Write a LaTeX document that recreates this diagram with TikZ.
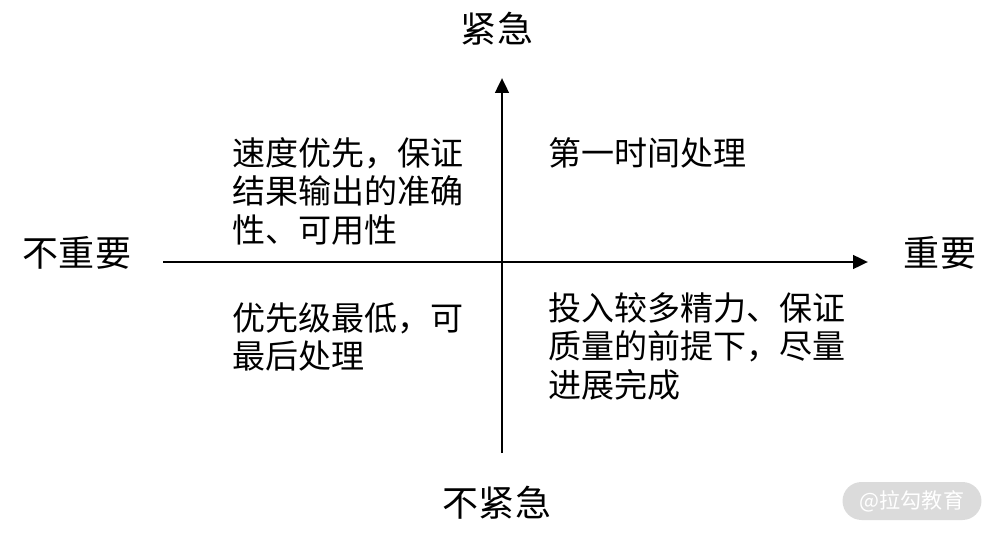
\documentclass[tikz,border=0pt]{standalone}
\usepackage{fontspec}
\setmainfont{Noto Sans CJK SC}
\usepackage{tikz}
\usetikzlibrary{arrows.meta,positioning}

\begin{document}
\begin{tikzpicture}[x=0.02cm, y=-0.02cm,
		axis/.style={line width=1.7pt, -{Triangle[length=0.3cm, width=0.27cm]}},
		axislabel/.style={inner sep=0pt, font=\fontsize{20.5}{24}\selectfont},
		quadtext/.style={inner sep=0pt, anchor=north west, align=left, font=\fontsize{18.8}{21.9}\selectfont},
		stamp/.style={fill=black!14, rounded corners=0.38cm, minimum width=2.78cm, minimum height=0.76cm, text=white, font=\fontsize{12}{14}\selectfont}]
			\useasboundingbox (0,0) rectangle (998,534);

			% axes
			\coordinate (L) at (163,262);
			\coordinate (R) at (868,262);
			\coordinate (B) at (502,453);
			\coordinate (T) at (502,78);
			\draw[axis] (L) -- (R);
			\draw[axis] (B) -- (T);

			% axis labels
			\node[axislabel] (urgent) at (497,29) {紧急};
			\node[axislabel] (noturgent) at (497,503) {不紧急};
			\node[axislabel] (notimp) at (77,253) {不重要};
			\node[axislabel] (imp) at (940,253) {重要};

			% quadrants
			\node[quadtext] (q2) at (232,137) {速度优先，保证\\结果输出的准确\\性、可用性};
			\node[quadtext] (q1) at (548,137) {第一时间处理};
			\node[quadtext] (q3) at (232,302) {优先级最低，可\\最后处理};
			\node[quadtext] (q4) at (548,292) {投入较多精力、保证\\质量的前提下，尽量\\进展完成};

			\node[stamp] (mark) at (912,501) {@拉勾教育};
		\end{tikzpicture}
\end{document}
